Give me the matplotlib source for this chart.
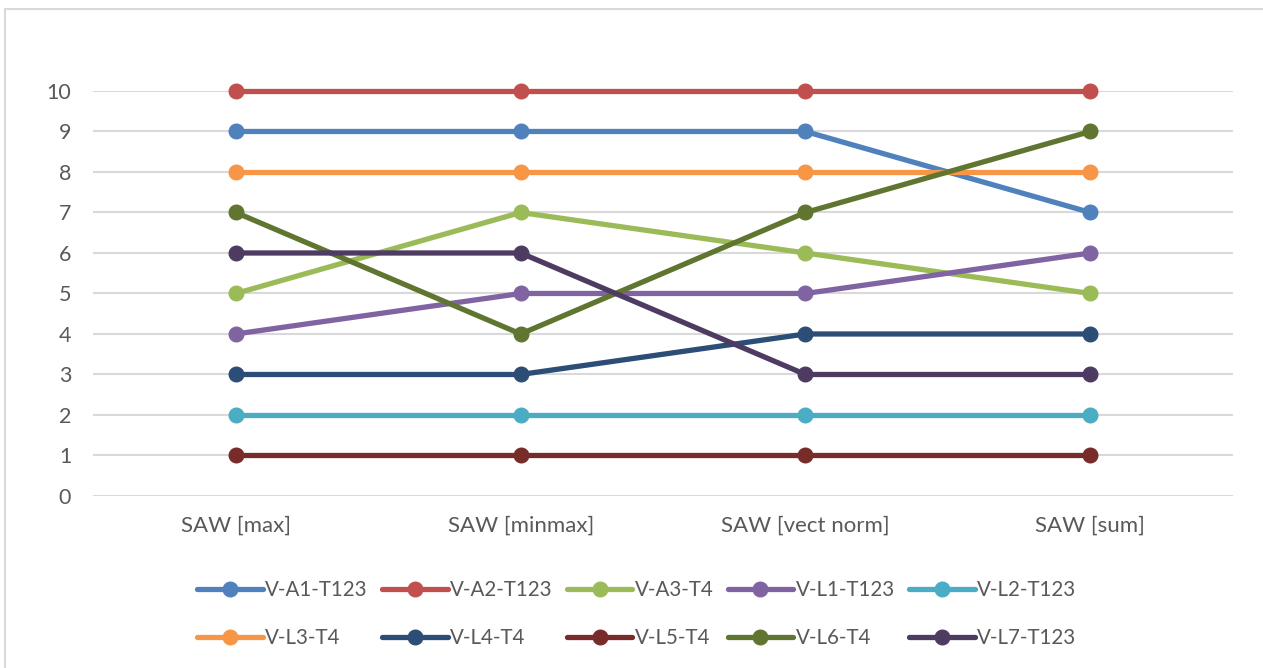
import matplotlib.pyplot as plt
from matplotlib.lines import Line2D

plt.rcParams['font.family'] = ['Lato', 'DejaVu Sans']

categories = ['SAW [max]', 'SAW [minmax]', 'SAW [vect norm]', 'SAW [sum]']
names = ['V-A1-T123', 'V-A2-T123', 'V-A3-T4', 'V-L1-T123', 'V-L2-T123',
         'V-L3-T4', 'V-L4-T4', 'V-L5-T4', 'V-L6-T4', 'V-L7-T123']
a1 = [9, 9, 9, 7]
a2 = [10, 10, 10, 10]
a3 = [5, 7, 6, 5]
l1 = [4, 5, 5, 6]
l2 = [2, 2, 2, 2]
l3 = [8, 8, 8, 8]
l4 = [3, 3, 4, 4]
l5 = [1, 1, 1, 1]
l6 = [7, 4, 7, 9]
l7 = [6, 6, 3, 3]
series = [a1, a2, a3, l1, l2, l3, l4, l5, l6, l7]
colors = ['#4F81BD', '#C0504D', '#9BBB59', '#8064A2', '#4BACC6',
          '#F79646', '#2C4D75', '#772C2A', '#5F7530', '#4D3B62']

fig = plt.figure(figsize=(12.63, 6.68), dpi=100)
ax = fig.add_axes([0.074, 0.2575, 0.902, 0.6063])

x = list(range(len(categories)))
handles = []
for vals, c, n in zip(series, colors, names):
    h, = ax.plot(x, vals, color=c, lw=3.8, marker='o', markersize=10.5,
                 solid_capstyle='round', label=n, clip_on=False, zorder=3)
    handles.append(h)

ax.set_xlim(-0.5, 3.5)
ax.set_ylim(0, 10)
ax.set_yticks(range(0, 11))
ax.set_xticks(x)
ax.set_xticklabels(categories)
ax.tick_params(length=0, labelcolor='#595959')
ax.tick_params(axis='x', pad=14, labelsize=16)
ax.tick_params(axis='y', pad=16, labelsize=15.5)
ax.grid(axis='y', color='#D9D9D9', lw=1.5)
ax.set_axisbelow(True)
for s in ax.spines.values():
    s.set_visible(False)

# legend fills column-wise, reorder so rows read like the original
order = [0, 5, 1, 6, 2, 7, 3, 8, 4, 9]
leg = fig.legend([handles[i] for i in order], [names[i] for i in order],
                 ncol=5, loc='center', bbox_to_anchor=(0.504, 0.081),
                 frameon=False, fontsize=14.8, handlelength=3.2,
                 handletextpad=0.1, columnspacing=0.7, labelspacing=1.35,
                 labelcolor='#595959')

# thin chart frame (top and left only visible)
fig.add_artist(Line2D([0.004, 1.0], [0.986, 0.986], color='#D9D9D9', lw=1.5))
fig.add_artist(Line2D([0.004, 0.004], [0.0, 0.986], color='#D9D9D9', lw=1.5))

fig.savefig('out.png', dpi=100)
